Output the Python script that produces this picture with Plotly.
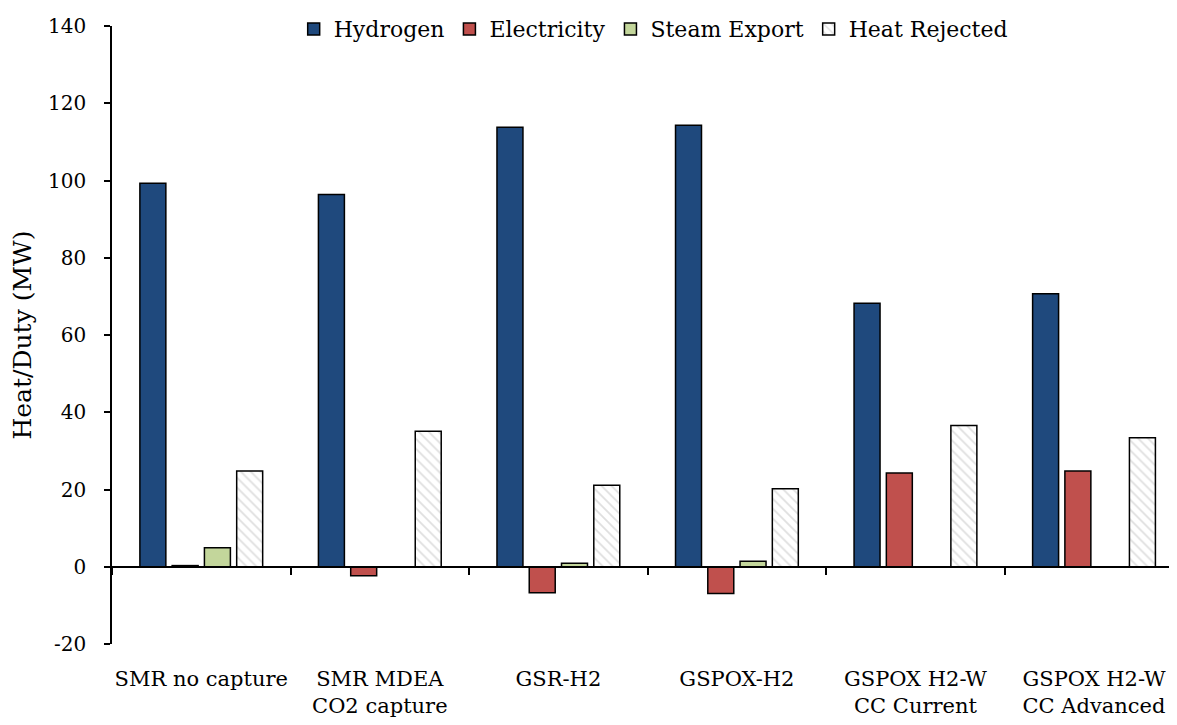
import plotly.graph_objects as go

categories = ["SMR no capture", "SMR MDEA<br>CO2 capture", "GSR-H2", "GSPOX-H2",
              "GSPOX H2-W<br>CC Current", "GSPOX H2-W<br>CC Advanced"]
hydrogen = [99.3, 96.4, 113.8, 114.3, 68.2, 70.7]
electricity = [0.3, -2.3, -6.7, -6.9, 24.3, 24.8]
steam_export = [4.9, 0, 0.9, 1.4, 0, 0]
heat_rejected = [24.8, 35.1, 21.1, 20.2, 36.6, 33.4]
y_ticks = [-20, 0, 20, 40, 60, 80, 100, 120, 140]
y_ticklabels = ["-20", "0", "20", "40", "60", "80", "100", "120", "140"]

FONT = "Palatino Linotype, Book Antiqua, Palatino, DejaVu Serif, serif"
outline = dict(color="black", width=1.5)

fig = go.Figure()
fig.add_trace(go.Bar(x=categories, y=hydrogen, name="Hydrogen",
                     marker=dict(color="#1F497D", line=outline)))
fig.add_trace(go.Bar(x=categories, y=electricity, name="Electricity",
                     marker=dict(color="#C0504D", line=outline)))
fig.add_trace(go.Bar(x=categories, y=steam_export, name="Steam Export",
                     marker=dict(color="#C3D69B", line=outline)))
fig.add_trace(go.Bar(x=categories, y=heat_rejected, name="Heat Rejected",
                     marker=dict(color="white", line=outline,
                                 pattern=dict(shape="\\", fgcolor="#BFBFBF", bgcolor="white",
                                              size=7, solidity=0.25))))

# invisible trace so the zero-line axis with boundary ticks is drawn
fig.add_trace(go.Scatter(x=categories, y=[0] * len(categories), xaxis="x2", mode="markers",
                         marker=dict(opacity=0), showlegend=False, hoverinfo="skip"))

# page has an 8px body margin, so the figure is sized to sit inside it
fig.update_layout(
    width=1161, height=709,
    margin=dict(l=104, r=0, t=14, b=73),
    paper_bgcolor="white", plot_bgcolor="white",
    font=dict(family=FONT, size=20, color="black"),
    barmode="group", bargap=0.277, bargroupgap=0.195,
    legend=dict(orientation="h", x=0.512, xanchor="center", y=0.995, yanchor="middle",
                bgcolor="rgba(0,0,0,0)", font=dict(size=22), traceorder="normal",
                itemwidth=30),
    xaxis=dict(type="category", range=[-0.5, 5.42], showline=False, ticks="",
               showgrid=False, tickfont=dict(size=21), automargin=False,
               ticklabelstandoff=20),
    xaxis2=dict(type="category", overlaying="x", anchor="free", position=0.125,
                range=[-0.5, 5.42], showline=True, linecolor="black", linewidth=1.5,
                ticks="outside", tickson="boundaries", ticklen=7, tickwidth=1.5,
                tickcolor="black", showticklabels=False, showgrid=False, automargin=False),
    yaxis=dict(range=[-20, 140], tickmode="array", tickvals=y_ticks, ticktext=y_ticklabels,
               showline=True, linecolor="black", linewidth=1.5,
               ticks="outside", ticklen=6, tickwidth=1.5, tickcolor="black",
               showgrid=False, zeroline=False, tickfont=dict(size=20), automargin=False,
               ticklabelstandoff=14,
               title=dict(text="Heat/Duty (MW)", font=dict(size=25), standoff=12)),
)

fig.write_html("out.html")
